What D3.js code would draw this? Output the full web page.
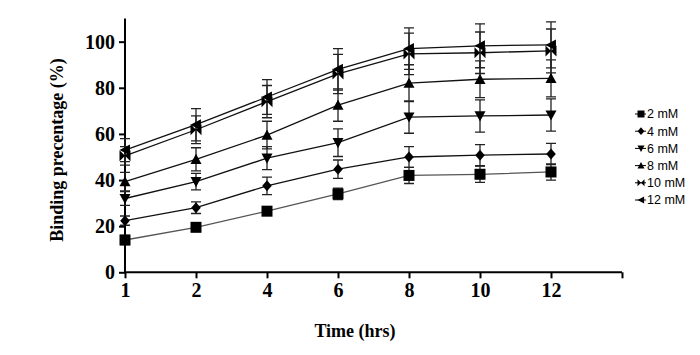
<!DOCTYPE html>
<html><head><meta charset="utf-8">
<script src="https://cdn.jsdelivr.net/npm/d3@7"></script>
<style>body{margin:0;background:#fff}svg{display:block}
.ax text{font-family:'Liberation Serif','Times New Roman',serif !important;font-weight:bold !important;font-size:20px !important;fill:#000}
</style>
</head><body>
<svg id="c" width="700" height="355"></svg>
<script>
const times = ["1","2","4","6","8","10","12"];
const yTicks = [0,20,40,60,80,100];
const seriesNames = ["2 mM","4 mM","6 mM","8 mM","10 mM","12 mM"];
const v2  = [14, 19.5, 26.5, 34, 42, 42.5, 43.5];
const v4  = [22.4, 28, 37.5, 44.7, 50, 50.8, 51.3];
const v6  = [32, 39.3, 49.5, 56.2, 67.3, 67.8, 68.2];
const v8  = [39.3, 49, 59.5, 72.5, 82, 83.7, 84.1];
const v10 = [50.5, 61.8, 74, 86, 94.7, 95.2, 96];
const v12 = [53, 64, 76, 88, 97, 98.2, 98.6];
const e2  = [2, 1.5, 1.5, 2.5, 3.5, 3.5, 3.5];
const e4  = [2, 2.5, 3.8, 4, 4.5, 4.6, 4.6];
const e6  = [3, 3.6, 5, 6, 7, 7, 7];
const e8  = [4, 5, 6, 7, 8, 8, 8];
const e10 = [4, 6, 7, 8.5, 9, 9, 9.5];
const e12 = [5, 7, 7.5, 9, 9, 9.5, 10];

const values = [v2,v4,v6,v8,v10,v12];
const errors = [e2,e4,e6,e8,e10,e12];

const svg = d3.select("#c");
const x = d3.scalePoint().domain([...times, ""]).range([125, 622]).padding(0);
const y = d3.scaleLinear().domain([0,110]).range([272.3, 18.6]);

function shape(i, s){
  switch(i){
    case 0: return `M${-s/2},${-s/2}h${s}v${s}h${-s}Z`;
    case 1: return `M0,${-s*0.55}L${s*0.48},0L0,${s*0.55}L${-s*0.48},0Z`;
    case 2: return `M${-s/2},${-s*0.42}L${s/2},${-s*0.42}L0,${s*0.5}Z`;
    case 3: return `M${-s/2},${s*0.42}L${s/2},${s*0.42}L0,${-s*0.5}Z`;
    case 4: return `M${-s/2},${-s/2}L${s/2},${s/2}L${s/2},${-s/2}L${-s/2},${s/2}Z`;
    case 5: return `M${s*0.45},${-s/2}L${s*0.45},${s/2}L${-s*0.5},0Z`;
  }
}
const sizes = [11,10,11,11,11,11];

const gx = svg.append("g").attr("class","ax").attr("transform","translate(0,272.3)")
  .call(d3.axisBottom(x).tickSize(6).tickPadding(5).tickFormat(d=>d));
gx.select(".domain").attr("stroke","#000").attr("stroke-width",2).attr("d","M125,0H622");
gx.selectAll(".tick line").attr("stroke","#000").attr("stroke-width",2);

const gy = svg.append("g").attr("class","ax").attr("transform","translate(125,0)")
  .call(d3.axisLeft(y).tickValues(yTicks).tickSize(6).tickPadding(4));
gy.select(".domain").attr("stroke","#000").attr("stroke-width",2).attr("d",`M0,${y(0)}V${y(110)}`);
gy.selectAll(".tick line").attr("stroke","#000").attr("stroke-width",2);

svg.append("text").attr("x",355).attr("y",337).attr("text-anchor","middle")
  .style("font-family","'Liberation Serif','Times New Roman',serif").style("font-weight","bold")
  .style("font-size","18px").text("Time (hrs)");
svg.append("text").attr("transform","translate(63,150) rotate(-90)").attr("text-anchor","middle")
  .style("font-family","'Liberation Serif','Times New Roman',serif").style("font-weight","bold")
  .style("font-size","18px").text("Binding precentage (%)");

const line = d3.line().x((d,i)=>x(times[i])).y(d=>y(d));
const plot = svg.append("g");
values.forEach((vals,si)=>{
  plot.append("path").attr("d",line(vals)).attr("fill","none")
    .attr("stroke", si===0 ? "#555" : "#111").attr("stroke-width",1.3);
});
values.forEach((vals,si)=>{
  const g = plot.append("g");
  vals.forEach((v,i)=>{
    const cx = x(times[i]), e = errors[si][i];
    g.append("path").attr("d",`M${cx},${y(v+e)}V${y(v-e)}M${cx-5},${y(v+e)}h10M${cx-5},${y(v-e)}h10`)
      .attr("stroke","#222").attr("stroke-width",1.3).attr("fill","none");
  });
});
values.forEach((vals,si)=>{
  plot.append("g").selectAll("path").data(vals).join("path")
    .attr("transform",(d,i)=>`translate(${x(times[i])},${y(d)})`)
    .attr("d",shape(si,sizes[si])).attr("fill","#000");
});

const lg = svg.append("g");
seriesNames.forEach((n,i)=>{
  const ly = 114 + i*17.2;
  lg.append("path").attr("d",`M635,${ly}h11`).attr("stroke","#000").attr("stroke-width",1);
  lg.append("path").attr("transform",`translate(641,${ly})`).attr("d",shape(i,7)).attr("fill","#000");
  lg.append("text").attr("x",647).attr("y",ly+4.3).style("font-family","'Liberation Sans',Arial,sans-serif")
    .style("font-size","12.5px").attr("fill","#000").text(n);
});
</script>
</body></html>
